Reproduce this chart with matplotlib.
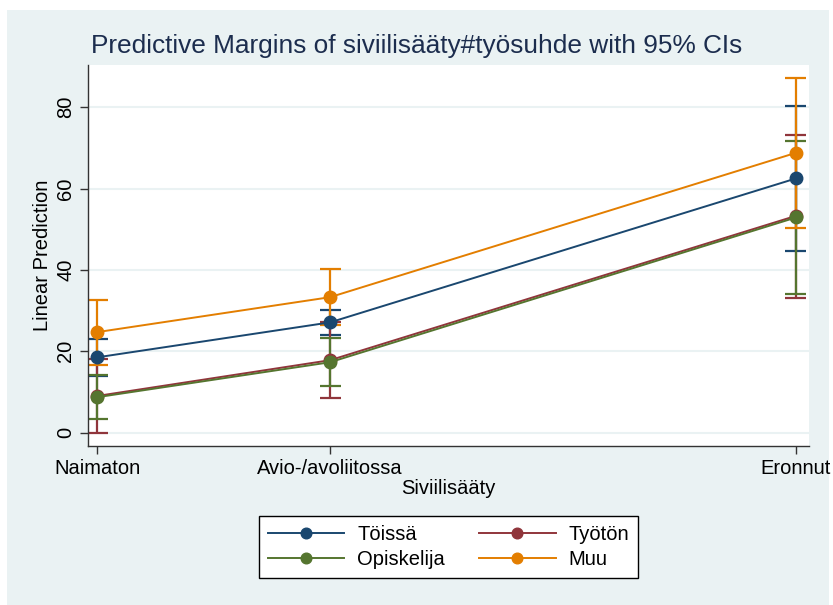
import numpy as np
import matplotlib.pyplot as plt
from matplotlib.patches import Rectangle

plt.rcParams['font.family'] = ['Liberation Sans', 'DejaVu Sans']

# marital status categories (Stata codes 1, 2, 4)
status_labels = ['Naimaton', 'Avio-/avoliitossa', 'Eronnut']
status_codes = [1, 2, 4]

groups = ['Töissä', 'Työtön', 'Opiskelija', 'Muu']
colors = ['#1a476f', '#90353b', '#55752f', '#e37e00']

# predictive margins and 95% CI bounds per group
margin = {
    'Töissä':     [18.5, 27.1, 62.5],
    'Työtön':     [9.0, 17.8, 53.3],
    'Opiskelija': [8.7, 17.3, 52.9],
    'Muu':        [24.7, 33.3, 68.8],
}
ci_low = {
    'Töissä':     [13.9, 24.1, 44.6],
    'Työtön':     [0.0, 8.5, 33.2],
    'Opiskelija': [3.3, 11.4, 34.0],
    'Muu':        [16.7, 26.4, 50.3],
}
ci_high = {
    'Töissä':     [23.1, 30.1, 80.4],
    'Työtön':     [18.0, 27.1, 73.3],
    'Opiskelija': [14.1, 23.2, 71.6],
    'Muu':        [32.6, 40.2, 87.3],
}

bg = '#eaf2f3'
fs = 14.5
fig = plt.figure(figsize=(8.33, 6.05), dpi=100, facecolor='white')
fig.patches.append(Rectangle((7 / 833, 0), 822 / 833, 595 / 605,
                             transform=fig.transFigure, facecolor=bg,
                             edgecolor='none', zorder=-10))

ax = fig.add_axes([88 / 833, 1 - 446 / 605, (809 - 88) / 833, (446 - 65) / 605])
ax.set_zorder(1)
ax.set_facecolor('white')

x = np.array(status_codes)

# confidence intervals first, then connected markers
for g, c in zip(groups, colors):
    lo = np.array(ci_low[g])
    hi = np.array(ci_high[g])
    ax.vlines(x, lo, hi, color=c, lw=1.6, zorder=2)
    ax.hlines(lo, x - 0.045, x + 0.045, color=c, lw=1.6, zorder=2)
    ax.hlines(hi, x - 0.045, x + 0.045, color=c, lw=1.6, zorder=2)

handles = []
for g, c in zip(groups, colors):
    h, = ax.plot(x, margin[g], color=c, lw=1.4, marker='o', ms=9,
                 markeredgecolor=c, label=g, zorder=3)
    handles.append(h)

ax.set_xlim(0.961, 4.056)
ax.set_ylim(-3.3, 90.4)
ax.set_xticks(status_codes)
ax.set_xticklabels(status_labels, fontsize=fs)
ax.set_yticks([0, 20, 40, 60, 80])
ax.set_yticklabels(['0', '20', '40', '60', '80'], fontsize=fs,
                   rotation=90, va='center')
ax.grid(axis='y', color=bg, lw=1.5, zorder=0)
ax.set_axisbelow(True)

for s in ['top', 'right']:
    ax.spines[s].set_visible(False)
for s in ['left', 'bottom']:
    ax.spines[s].set_color('#333333')
    ax.spines[s].set_linewidth(1.0)
ax.tick_params(axis='both', length=6, width=1.0, color='#333333', pad=3)

ax.set_xlabel('Siviilisääty', fontsize=fs, labelpad=1)
ax.set_ylabel('Linear Prediction', fontsize=fs, labelpad=3)

fig.text(0.5, 1 - 46 / 605, 'Predictive Margins of siviilisääty#työsuhde with 95% CIs',
         ha='center', va='center', fontsize=18.9, color='#1c2d4e')

order = [handles[0], handles[2], handles[1], handles[3]]
leg = fig.legend(order, [h.get_label() for h in order], ncol=2,
                 loc='center', bbox_to_anchor=(448.5 / 833, 1 - 547 / 605),
                 fontsize=fs, frameon=True, fancybox=False, framealpha=1,
                 edgecolor='black', handlelength=3.8, columnspacing=1.7,
                 borderpad=0.45, labelspacing=0.3, handletextpad=0.65,
                 markerscale=0.85)
leg.get_frame().set_linewidth(1.0)

fig.savefig('out.png', dpi=100, facecolor=fig.get_facecolor())
